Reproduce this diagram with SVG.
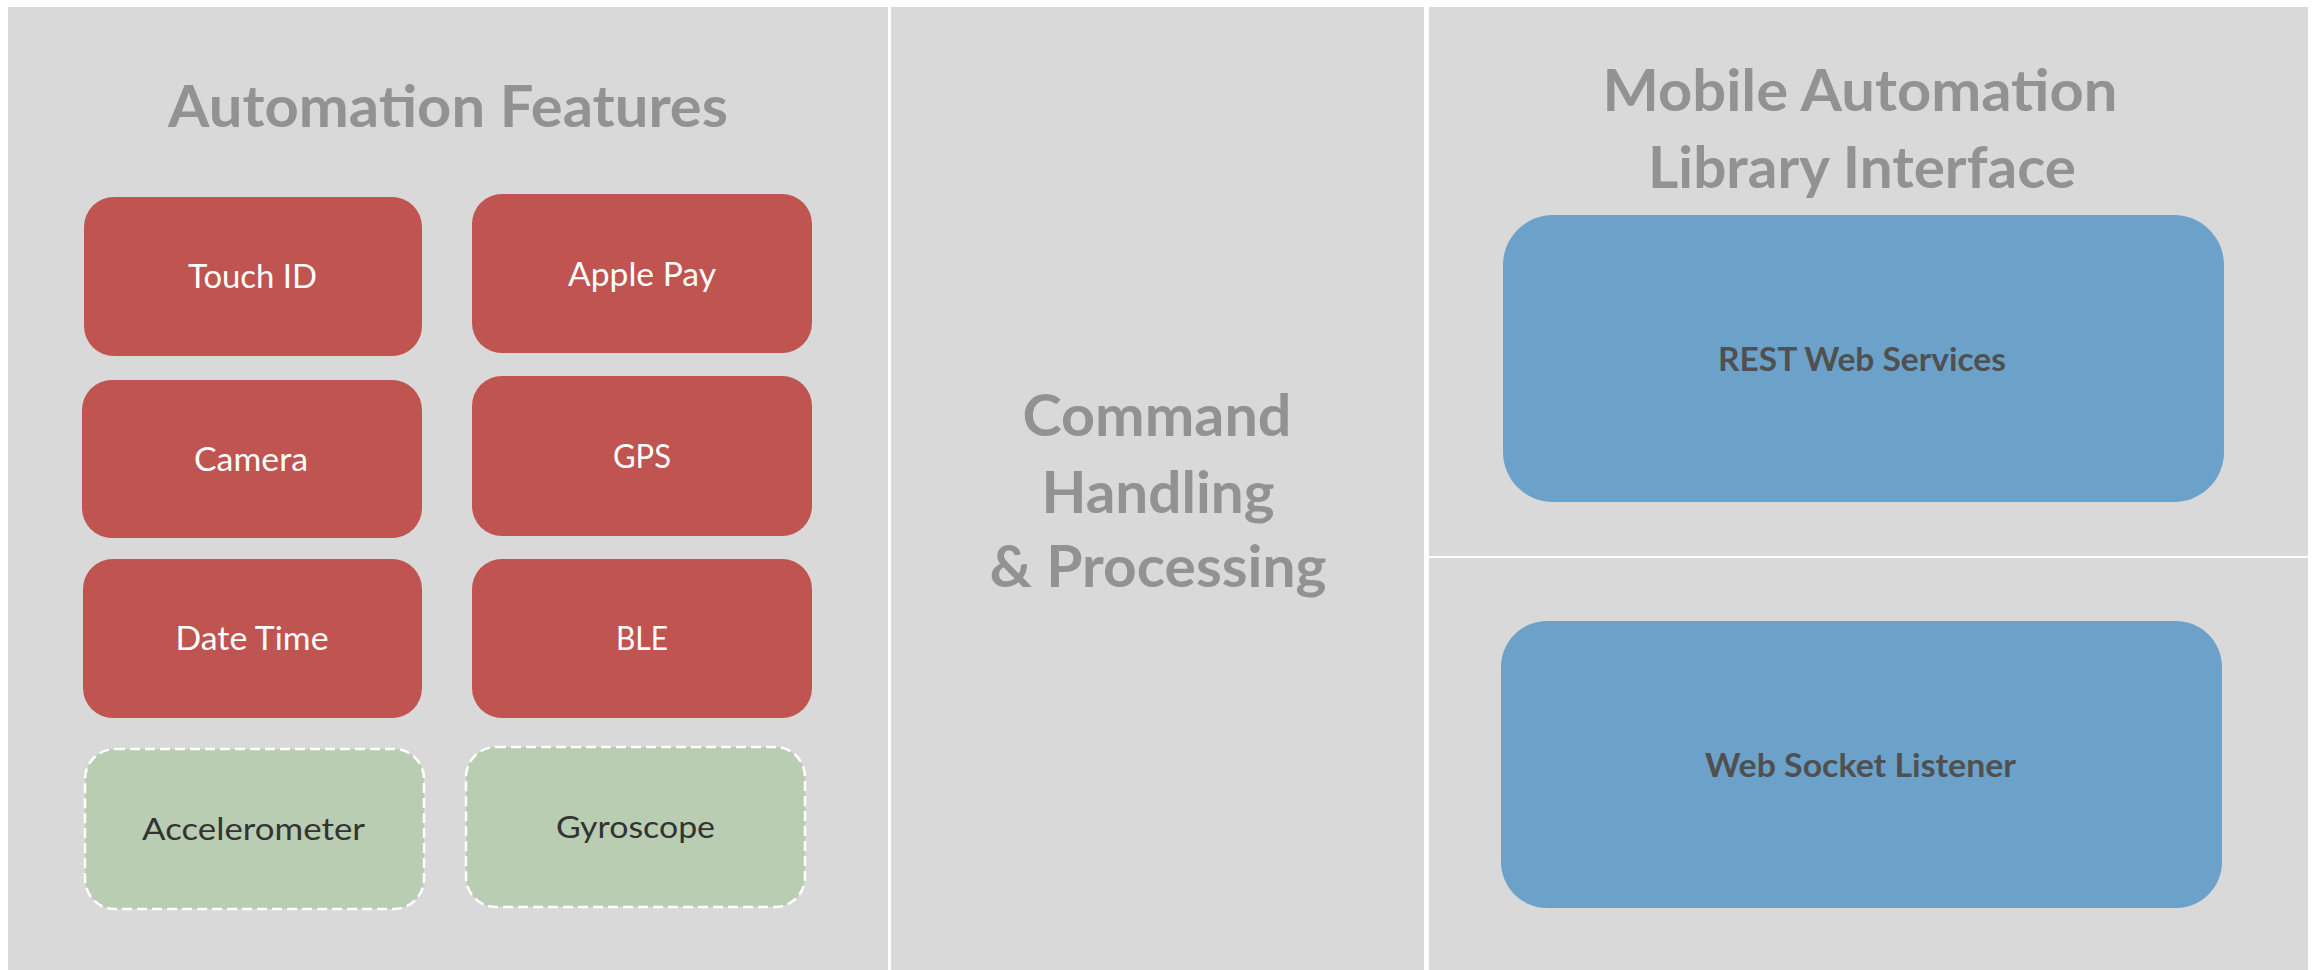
<svg xmlns="http://www.w3.org/2000/svg" width="2316" height="970" viewBox="0 0 2316 970">
  <style>
    .panel { fill: #d9d9d9; }
    .title { font-family: Lato, "Open Sans", "Liberation Sans", sans-serif; font-weight: bold; font-size: 58px; fill: #929292; text-anchor: middle; }
    .feat rect { fill: #bf5450; }
    .feat text { font-family: Lato, "Open Sans", "Liberation Sans", sans-serif; font-size: 32px; fill: #ffffff; text-anchor: middle; }
    .opt rect { fill: #b9cdb3; stroke: #ffffff; stroke-width: 2.5; stroke-dasharray: 10 5; }
    .opt text { font-family: Lato, "Open Sans", "Liberation Sans", sans-serif; font-size: 31px; fill: #333333; text-anchor: middle; }
    .svc rect { fill: #6ca2ca; }
    .svc text { font-family: Lato, "Open Sans", "Liberation Sans", sans-serif; font-weight: bold; font-size: 32px; fill: #505050; text-anchor: middle; }
  </style>

  <rect x="0" y="0" width="2316" height="970" fill="#ffffff"/>

  <!-- Column backgrounds -->
  <g id="panels">
    <rect class="panel" x="8" y="7" width="880" height="963"/>
    <rect class="panel" x="891" y="7" width="533" height="963"/>
    <rect class="panel" x="1429" y="7" width="879" height="549"/>
    <rect class="panel" x="1429" y="558" width="879" height="412"/>
  </g>

  <!-- Column headings -->
  <g id="heading-features">
    <text class="title" x="448" y="127" textLength="560" lengthAdjust="spacingAndGlyphs">Automation Features</text>
  </g>
  <g id="heading-command">
    <text class="title" x="1157" y="436" textLength="269" lengthAdjust="spacingAndGlyphs">Command</text>
    <text class="title" x="1158" y="513" textLength="233" lengthAdjust="spacingAndGlyphs">Handling</text>
    <text class="title" x="1158" y="587" textLength="337" lengthAdjust="spacingAndGlyphs">&amp; Processing</text>
  </g>
  <g id="heading-library">
    <text class="title" x="1860" y="111" textLength="515" lengthAdjust="spacingAndGlyphs">Mobile Automation</text>
    <text class="title" x="1862" y="188" textLength="428" lengthAdjust="spacingAndGlyphs">Library Interface</text>
  </g>

  <!-- Supported features -->
  <g id="touch-id" class="feat">
    <rect x="84" y="197" width="338" height="159" rx="30" ry="30"/>
    <text x="252.5" y="288" textLength="129" lengthAdjust="spacingAndGlyphs">Touch ID</text>
  </g>
  <g id="apple-pay" class="feat">
    <rect x="472" y="194" width="340" height="159" rx="30" ry="30"/>
    <text x="642" y="286" textLength="148" lengthAdjust="spacingAndGlyphs">Apple Pay</text>
  </g>
  <g id="camera" class="feat">
    <rect x="82" y="380" width="340" height="158" rx="30" ry="30"/>
    <text x="251" y="471" textLength="114" lengthAdjust="spacingAndGlyphs">Camera</text>
  </g>
  <g id="gps" class="feat">
    <rect x="472" y="376" width="340" height="160" rx="30" ry="30"/>
    <text x="642" y="468" textLength="58" lengthAdjust="spacingAndGlyphs">GPS</text>
  </g>
  <g id="date-time" class="feat">
    <rect x="83" y="559" width="339" height="159" rx="30" ry="30"/>
    <text x="252" y="650" textLength="153" lengthAdjust="spacingAndGlyphs">Date Time</text>
  </g>
  <g id="ble" class="feat">
    <rect x="472" y="559" width="340" height="159" rx="30" ry="30"/>
    <text x="642" y="650" textLength="52" lengthAdjust="spacingAndGlyphs">BLE</text>
  </g>

  <!-- Planned features -->
  <g id="accelerometer" class="opt">
    <rect x="85" y="749" width="339" height="160" rx="30" ry="30"/>
    <text x="253.5" y="840" textLength="223" lengthAdjust="spacingAndGlyphs">Accelerometer</text>
  </g>
  <g id="gyroscope" class="opt">
    <rect x="466" y="747" width="339" height="160" rx="30" ry="30"/>
    <text x="635.5" y="838" textLength="159" lengthAdjust="spacingAndGlyphs">Gyroscope</text>
  </g>

  <!-- Library interfaces -->
  <g id="rest-web-services" class="svc">
    <rect x="1503" y="215" width="721" height="287" rx="50" ry="50"/>
    <text x="1862" y="371" textLength="288" lengthAdjust="spacingAndGlyphs">REST Web Services</text>
  </g>
  <g id="web-socket-listener" class="svc">
    <rect x="1501" y="621" width="721" height="287" rx="46" ry="46"/>
    <text x="1860.5" y="777" textLength="311" lengthAdjust="spacingAndGlyphs">Web Socket Listener</text>
  </g>

  <g id="connectors"/>
</svg>
